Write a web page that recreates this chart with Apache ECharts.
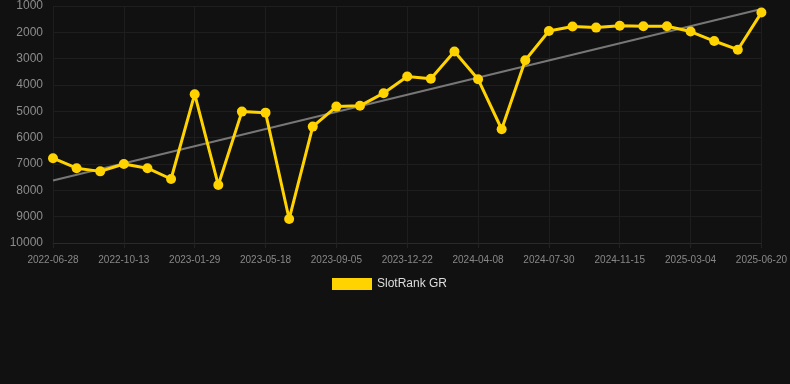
<!DOCTYPE html>
<html>
<head>
<meta charset="utf-8">
<script src="https://cdn.jsdelivr.net/npm/echarts@6/dist/echarts.min.js"></script>
<style>html,body{margin:0;padding:0;background:#111111;}#c{width:790px;height:384px;}</style>
</head>
<body>
<div id="c"></div>
<script>
const categories = ['2022-06-28','2022-08-03','2022-09-08','2022-10-13','2022-11-18','2022-12-24','2023-01-29','2023-03-06','2023-04-12','2023-05-18','2023-06-23','2023-07-30','2023-09-05','2023-10-11','2023-11-16','2023-12-22','2024-01-27','2024-03-03','2024-04-08','2024-05-14','2024-06-20','2024-07-30','2024-09-04','2024-10-10','2024-11-15','2024-12-21','2025-01-26','2025-03-04','2025-04-09','2025-05-15','2025-06-20'];
const rankValues = [6780,7160,7280,7000,7160,7570,4350,7800,5010,5050,9090,5580,4820,4790,4310,3680,3760,2730,3780,5680,3060,1950,1780,1820,1750,1770,1770,1970,2330,2660,1250];
const seriesName = 'SlotRank GR';

// linear regression trend
const n = rankValues.length;
let sx=0, sy=0, sxy=0, sxx=0;
rankValues.forEach((v,i)=>{sx+=i;sy+=v;sxy+=i*v;sxx+=i*i;});
const slope = (n*sxy - sx*sy)/(n*sxx - sx*sx);
const intercept = (sy - slope*sx)/n;
const trend = rankValues.map((v,i)=> (i===0||i===n-1) ? intercept + slope*i : null);

const chart = echarts.init(document.getElementById('c'));
chart.setOption({
  backgroundColor: '#111111',
  animation: false,
  grid: {left: 53, right: 28, top: 6, bottom: 141},
  legend: {
    top: 273, left: 327,
    itemWidth: 40, itemHeight: 12, itemGap: 10,
    data: [{name: seriesName, icon: 'rect'}],
    textStyle: {color: '#dddddd', fontSize: 12, fontFamily: 'Liberation Sans, Arial, sans-serif'}
  },
  xAxis: {
    type: 'category', data: categories, boundaryGap: false,
    axisLine: {lineStyle: {color: '#2a2a2a'}},
    axisTick: {show: true, interval: 2, lineStyle: {color: '#222222'}},
    axisLabel: {interval: 2, color: '#888888', fontSize: 10, margin: 12, fontFamily: 'Liberation Sans, Arial, sans-serif'},
    splitLine: {show: true, interval: 2, lineStyle: {color: '#1e1e1e'}}
  },
  yAxis: {
    type: 'value', inverse: true, min: 1000, max: 10000, interval: 1000,
    axisLine: {show: false}, axisTick: {show: false},
    axisLabel: {color: '#8c8c8c', fontSize: 12, margin: 10, formatter: v => String(v), fontFamily: 'Liberation Sans, Arial, sans-serif'},
    splitLine: {lineStyle: {color: '#1e1e1e'}}
  },
  series: [
    {
      name: seriesName, type: 'line', data: rankValues,
      color: '#FFD300',
      symbol: 'circle', symbolSize: 10,
      lineStyle: {width: 3, color: '#FFD300'},
      itemStyle: {color: '#FFD300'},
      z: 3
    },
    {
      name: 'trend', type: 'line', data: trend, connectNulls: true,
      symbol: 'none',
      lineStyle: {width: 2, color: '#777777'},
      z: 2
    }
  ]
});
</script>
</body>
</html>
